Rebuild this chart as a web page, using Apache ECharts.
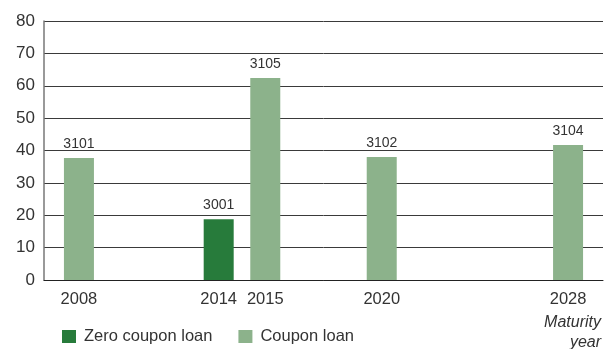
<!DOCTYPE html>
<html>
<head>
<meta charset="utf-8">
<script src="https://cdn.jsdelivr.net/npm/echarts@6/dist/echarts.min.js"></script>
<style>
  html, body { margin: 0; padding: 0; background: #fff; }
  #chart { width: 608px; height: 349px; }
</style>
</head>
<body>
<div id="chart"></div>
<script>
// Loans by maturity year (amounts in the left-hand scale)
const years = ['2008', '2014', '2015', '2020', '2028'];
const loanIds = ['3101', '3001', '3105', '3102', '3104'];
const zeroCoupon = [null, 18.8, null, null, null];
const coupon = [37.7, null, 62.4, 38.0, 41.7];
const yTicks = [0, 10, 20, 30, 40, 50, 60, 70, 80];

// Layout: the time axis is drawn as evenly sized slots, each year sits in one slot
const slotCount = 24;
const yearSlot = [1, 7, 9, 14, 22];

const categories = [];
const zeroData = [];
const couponData = [];
const idBySlot = {};
for (let s = 0; s < slotCount; s++) {
  const i = yearSlot.indexOf(s);
  if (i >= 0) {
    categories.push(years[i]);
    zeroData.push(zeroCoupon[i] == null ? '-' : zeroCoupon[i]);
    couponData.push(coupon[i] == null ? '-' : coupon[i]);
    idBySlot[s] = loanIds[i];
  } else {
    categories.push('_' + s);
    zeroData.push('-');
    couponData.push('-');
  }
}

const font = "'Liberation Sans', Arial, sans-serif";
const textColor = '#333';

const barLabel = {
  show: true,
  position: 'top',
  distance: 7,
  color: textColor,
  fontFamily: font,
  fontSize: 14,
  formatter: p => idBySlot[p.dataIndex] || ''
};

const chart = echarts.init(document.getElementById('chart'), null, { renderer: 'canvas' });
chart.setOption({
  animation: false,
  grid: { left: 44, right: 5, top: 21, bottom: 69, containLabel: false },
  xAxis: {
    type: 'category',
    data: categories,
    boundaryGap: true,
    axisLine: { lineStyle: { color: '#222', width: 1 } },
    axisTick: { show: false },
    axisLabel: {
      interval: 0,
      margin: 11,
      color: textColor,
      fontFamily: font,
      fontSize: 16.5,
      formatter: v => (v.charAt(0) === '_' ? '' : v)
    },
    splitLine: { show: false }
  },
  yAxis: {
    type: 'value',
    min: yTicks[0],
    max: yTicks[yTicks.length - 1],
    interval: 10,
    axisLine: { show: true, lineStyle: { color: '#777', width: 1.5 } },
    axisTick: { show: false },
    axisLabel: { margin: 9, color: textColor, fontFamily: font, fontSize: 17 },
    splitLine: { lineStyle: { color: '#3a3a3a', width: 1 } }
  },
  legend: {
    left: 57,
    top: 323,
    itemWidth: 14,
    itemHeight: 13,
    itemGap: 26,
    icon: 'rect',
    textStyle: { color: textColor, fontFamily: font, fontSize: 16.5, padding: [0, 0, 0, 3] },
    data: ['Zero coupon loan', 'Coupon loan']
  },
  graphic: [
    {
      type: 'text',
      right: 7,
      top: 315,
      style: { text: 'Maturity', fill: textColor, font: 'italic 16px ' + font }
    },
    {
      type: 'text',
      right: 7,
      top: 335,
      style: { text: 'year', fill: textColor, font: 'italic 16px ' + font }
    }
  ],
  series: [
    {
      name: 'Zero coupon loan',
      type: 'bar',
      stack: 'loans',
      barWidth: 30,
      data: zeroData,
      itemStyle: { color: '#277b3b' },
      label: barLabel
    },
    {
      name: 'Coupon loan',
      type: 'bar',
      stack: 'loans',
      barWidth: 30,
      data: couponData,
      itemStyle: { color: '#8cb28b' },
      label: barLabel
    }
  ]
});
</script>
</body>
</html>
